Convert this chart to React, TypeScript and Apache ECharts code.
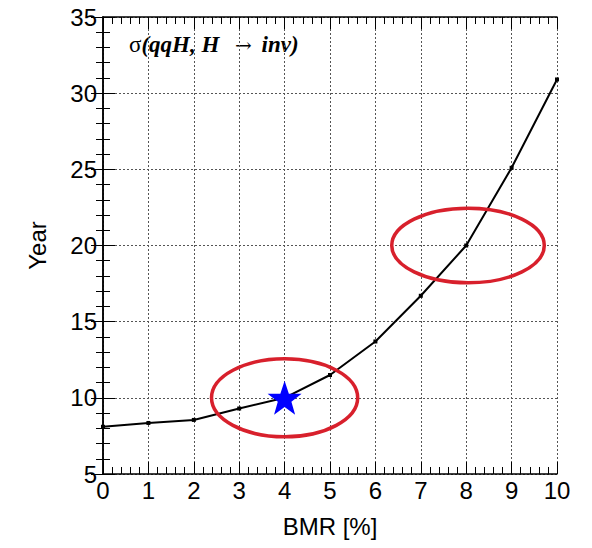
import React, { useEffect, useRef } from "react";
import * as echarts from "echarts";

const bmr = [0, 1, 2, 3, 4, 5, 6, 7, 8, 9, 10];
const years = [8.1, 8.35, 8.55, 9.3, 10.0, 11.5, 13.7, 16.7, 20.0, 25.1, 30.9];
const starPoint = [4, 10];
// ellipses: [cx, cy, rx, ry] in data units
const ellipses = [
  [4, 10, 1.61, 2.56],
  [8.04, 20, 1.68, 2.45],
];

const STAR =
  "path://M50,0 L62.5,36 L100,36 L70,58.5 L81,95 L50,73 L19,95 L30,58.5 L0,36 L37.5,36 Z";

export default function App() {
  const ref = useRef<HTMLDivElement>(null);
  useEffect(() => {
    document.body.style.margin = "0";
    const chart = echarts.init(ref.current!, null, { renderer: "svg" });
    const font = "Liberation Sans, Helvetica, Arial, sans-serif";
    const tickCommon = {
      axisLine: { show: true, lineStyle: { color: "#000", width: 1.5 } },
      axisTick: { show: true, inside: true, length: 12, lineStyle: { color: "#000", width: 1 } },
      minorTick: { show: true, splitNumber: 5, length: 7, lineStyle: { color: "#000", width: 1 } },
    };
    chart.setOption({
      animation: false,
      backgroundColor: "#fff",
      grid: { left: 103, right: 35, top: 17, bottom: 74, containLabel: false },
      xAxis: [
        {
          type: "value",
          min: 0,
          max: 10,
          interval: 1,
          position: "bottom",
          name: "BMR [%]",
          nameLocation: "middle",
          nameGap: 40,
          nameTextStyle: { fontFamily: font, fontSize: 24, color: "#000" },
          axisLabel: { fontFamily: font, fontSize: 24, color: "#000", margin: 4 },
          splitLine: { show: true, lineStyle: { type: [2, 2], color: "#555", width: 1 } },
          ...tickCommon,
        },
        {
          type: "value",
          min: 0,
          max: 10,
          interval: 1,
          position: "top",
          axisLabel: { show: false },
          splitLine: { show: false },
          ...tickCommon,
        },
      ],
      yAxis: [
        {
          type: "value",
          min: 5,
          max: 35,
          interval: 5,
          position: "left",
          name: "Year",
          nameLocation: "middle",
          nameGap: 54,
          nameTextStyle: { fontFamily: font, fontSize: 24, color: "#000" },
          axisLabel: { fontFamily: font, fontSize: 24, color: "#000", margin: 6 },
          splitLine: { show: true, lineStyle: { type: [2, 2], color: "#555", width: 1 } },
          ...tickCommon,
        },
        {
          type: "value",
          min: 5,
          max: 35,
          interval: 5,
          position: "right",
          axisLabel: { show: false },
          splitLine: { show: false },
          ...tickCommon,
        },
      ],
      graphic: [
        {
          type: "text",
          left: 129,
          top: 33,
          style: {
            text: "{s|σ}{b|(qqH, H }{a|→}{b| inv)}",
            rich: {
              s: { fontFamily: "Liberation Serif, serif", fontSize: 23, fill: "#000" },
              b: {
                fontFamily: "Liberation Serif, serif",
                fontSize: 23,
                fontWeight: "bold",
                fontStyle: "italic",
                fill: "#000",
              },
              a: { fontFamily: "DejaVu Serif, serif", fontSize: 20, fill: "#000", padding: [0, 4, 0, 10] },
            },
          },
        },
      ],
      series: [
        {
          type: "line",
          data: bmr.map((x, i) => [x, years[i]]),
          symbol: "rect",
          symbolSize: 4,
          lineStyle: { color: "#000", width: 2 },
          itemStyle: { color: "#000" },
          z: 3,
        },
        {
          type: "custom",
          data: ellipses,
          renderItem: (params: any, api: any) => {
            const c = api.coord([api.value(0), api.value(1)]);
            const s = api.size([api.value(2), api.value(3)]);
            return {
              type: "ellipse",
              shape: { cx: c[0], cy: c[1], rx: s[0], ry: s[1] },
              style: { fill: "none", stroke: "#d8202c", lineWidth: 3.5 },
            };
          },
          z: 4,
        },
        {
          type: "scatter",
          data: [starPoint],
          symbol: STAR,
          symbolSize: 34,
          itemStyle: { color: "#0000ff", opacity: 1 },
          z: 5,
        },
      ],
    });
    return () => chart.dispose();
  }, []);
  return <div ref={ref} style={{ width: 592, height: 548 }} />;
}
